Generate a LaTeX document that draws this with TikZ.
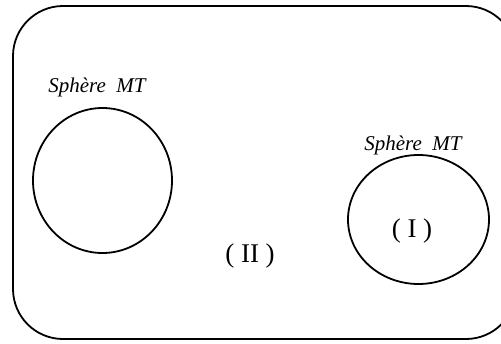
\documentclass[tikz,border=0pt]{standalone}
\usepackage{fontspec}
\setmainfont{Liberation Serif}
\usetikzlibrary{shapes.geometric}
\begin{document}
\begin{tikzpicture}[x=1pt,y=-1pt,
  edge/.style={line width=1.8pt, black},
  sphere label/.style={font=\itshape\fontsize{21}{25}\selectfont, inner sep=0pt},
  region label/.style={font=\fontsize{27}{32}\selectfont, inner sep=0pt}]
  \useasboundingbox (0,0) rectangle (501,343);
  \begin{scope}
    \clip (0,0) rectangle (501,343);
    % outer domain
    \draw[edge, rounded corners=50pt] (13,6) rectangle (516,339);
  \end{scope}
  % the two spheres
  \node[edge, draw, ellipse, minimum width=139pt, minimum height=145pt, inner sep=0pt] (s1) at (102.5,180.5) {};
  \node[edge, draw, ellipse, minimum width=141pt, minimum height=129pt, inner sep=0pt] (s2) at (418.5,219.5) {};
  % labels
  \node[sphere label] (l1) at (97,87) {Sphère\ \ MT};
  \node[sphere label] (l2) at (413,145) {Sphère\ \ MT};
  \node[region label] (r1) at (412,231) {( I )};
  \node[region label] (r2) at (250,256) {( II )};
\end{tikzpicture}
\end{document}
